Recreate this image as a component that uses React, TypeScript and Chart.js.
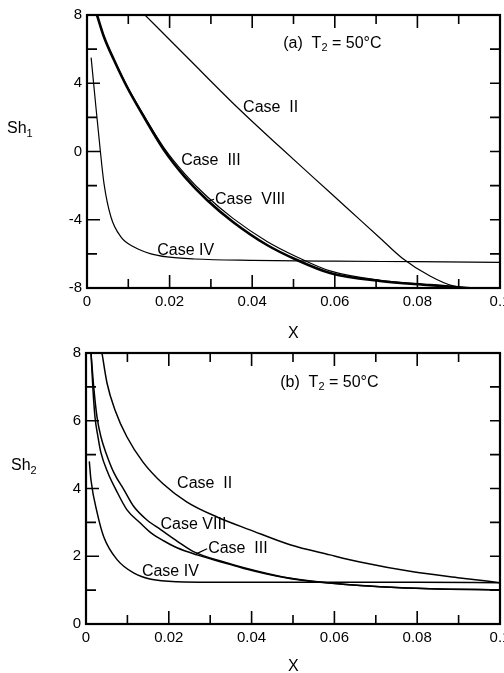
import { useEffect, useRef } from 'react';
import { Chart, registerables } from 'chart.js';

Chart.register(...registerables);

type P = [number, number];

// ---------- Panel (a): Sh1 vs X ----------
const TOP_CASE_II: P[] = [
  [0.01404, 8], [0.0249, 5.36], [0.03656, 2.55], [0.04673, 0.26], [0.05472, -1.5],
  [0.06295, -3.31], [0.07094, -5.07], [0.07627, -6.24], [0.08305, -7.3],
  [0.08862, -7.88], [0.1, -8.18],
];
const TOP_CASE_III: P[] = [
  [0.00242, 8], [0.00412, 6.71], [0.00654, 5.36], [0.00969, 3.78], [0.0138, 2.02],
  [0.01864, 0.09], [0.02373, -1.5], [0.02906, -2.84], [0.03535, -4.13], [0.04358, -5.48],
  [0.05085, -6.36], [0.05884, -7.12], [0.07094, -7.59], [0.08305, -7.83], [0.09516, -8.06],
  [0.1, -8.18],
];
const TOP_CASE_VIII: P[] = [
  [0.00242, 8], [0.00412, 6.73], [0.00654, 5.39], [0.00969, 3.83], [0.0138, 2.1],
  [0.01864, 0.22], [0.02373, -1.32], [0.02906, -2.64], [0.03535, -3.92], [0.04358, -5.27],
  [0.05085, -6.18], [0.05884, -7.0], [0.07094, -7.55], [0.08305, -7.81], [0.09516, -8.05],
  [0.1, -8.18],
];
const TOP_CASE_IV: P[] = [
  [0.001, 5.5], [0.002, 3.0], [0.0032, 0.1], [0.0041, -1.85], [0.0058, -3.84],
  [0.0082, -5.0], [0.0114, -5.6], [0.0155, -6.0], [0.0194, -6.18], [0.026, -6.3],
  [0.04, -6.38], [0.06, -6.43], [0.08, -6.46], [0.1, -6.5],
];

// ---------- Panel (b): Sh2 vs X ----------
const BOT_CASE_II: P[] = [
  [0.00386, 8], [0.00507, 7.115], [0.007, 6.32], [0.0099, 5.52], [0.01377, 4.78],
  [0.0186, 4.14], [0.0244, 3.6], [0.03164, 3.16], [0.0396, 2.78], [0.04928, 2.34],
  [0.05894, 2.04], [0.06618, 1.83], [0.079, 1.54], [0.09034, 1.36], [0.1, 1.22],
];
const BOT_CASE_VIII: P[] = [
  [0.00121, 8], [0.00193, 6.91], [0.00266, 6.11], [0.00362, 5.52], [0.00483, 5.05],
  [0.00676, 4.46], [0.00918, 3.96], [0.01159, 3.46], [0.01473, 3.07], [0.01812, 2.78],
  [0.02198, 2.45], [0.02609, 2.13], [0.03333, 1.83], [0.03816, 1.66], [0.04758, 1.39],
  [0.05652, 1.24], [0.07101, 1.1], [0.08309, 1.04], [0.1, 1.01],
];
const BOT_CASE_III: P[] = [
  [0.00121, 8], [0.00169, 6.91], [0.00217, 6.11], [0.0029, 5.52], [0.00362, 5.05],
  [0.00531, 4.46], [0.00725, 3.96], [0.0099, 3.37], [0.01304, 2.99], [0.0157, 2.69],
  [0.01884, 2.45], [0.02198, 2.25], [0.02681, 2.04], [0.03333, 1.81], [0.03816, 1.64],
  [0.04758, 1.38], [0.05652, 1.23], [0.07101, 1.1], [0.08309, 1.04], [0.1, 1.01],
];
const BOT_CASE_IV: P[] = [
  [0.0008, 4.8], [0.0012, 4.25], [0.0027, 3.28], [0.0043, 2.57], [0.0075, 1.9],
  [0.0116, 1.5], [0.0157, 1.32], [0.022, 1.25], [0.04, 1.23], [0.06, 1.23],
  [0.08, 1.23], [0.1, 1.22],
];

// ---------- Axis ticks ----------
const X_TICK_MARKS = [0.01, 0.02, 0.03, 0.04, 0.05, 0.06, 0.07, 0.08, 0.09];
const X_TICK_MAJOR = [0.02, 0.04, 0.06, 0.08];
const TOP_Y_TICK_MARKS = [-6, -4, -2, 0, 2, 4, 6];
const TOP_Y_TICK_MAJOR = [-4, 0, 4];
const BOT_Y_TICK_MARKS = [1, 2, 3, 4, 5, 6, 7];
const BOT_Y_TICK_MAJOR = [2, 4, 6];

const FONT = '"Liberation Sans", Arial, sans-serif';

type Label = { parts: { t: string; sub?: boolean }[]; x: number; y: number; arrowFrom?: P };

const TOP_LABELS: Label[] = [
  { parts: [{ t: '(a)  T' }, { t: '2', sub: true }, { t: ' = 50°C' }], x: 0.0475, y: 6.3 },
  { parts: [{ t: 'Case  II' }], x: 0.0378, y: 2.55 },
  { parts: [{ t: 'Case  III' }], x: 0.0228, y: -0.56 },
  { parts: [{ t: 'Case  VIII' }], x: 0.031, y: -2.8, arrowFrom: [0.0292, -2.92] },
  { parts: [{ t: 'Case IV' }], x: 0.017, y: -5.78 },
];
const BOT_LABELS: Label[] = [
  { parts: [{ t: '(b)  T' }, { t: '2', sub: true }, { t: ' = 50°C' }], x: 0.0469, y: 7.12 },
  { parts: [{ t: 'Case  II' }], x: 0.022, y: 4.14 },
  { parts: [{ t: 'Case VIII' }], x: 0.018, y: 2.93 },
  { parts: [{ t: 'Case  III' }], x: 0.0295, y: 2.22, arrowFrom: [0.0266, 2.07] },
  { parts: [{ t: 'Case IV' }], x: 0.0135, y: 1.54 },
];

const framePlugin = {
  id: 'frameTicks',
  afterDraw(chart: any, _args: any, opts: any) {
    const { ctx, chartArea: a, scales } = chart;
    ctx.save();
    ctx.strokeStyle = '#000';
    ctx.lineWidth = 1.6;
    for (const v of opts.xTicks as number[]) {
      const px = scales.x.getPixelForValue(v);
      const len = (opts.xMajor as number[]).some((m) => Math.abs(m - v) < 1e-9) ? 13 : 9;
      ctx.beginPath();
      ctx.moveTo(px, a.bottom);
      ctx.lineTo(px, a.bottom - len);
      ctx.moveTo(px, a.top);
      ctx.lineTo(px, a.top + len);
      ctx.stroke();
    }
    for (const v of opts.yTicks as number[]) {
      const py = scales.y.getPixelForValue(v);
      const len = (opts.yMajor as number[]).some((m) => Math.abs(m - v) < 1e-9) ? 13 : 10;
      ctx.beginPath();
      ctx.moveTo(a.left, py);
      ctx.lineTo(a.left + len, py);
      ctx.moveTo(a.right, py);
      ctx.lineTo(a.right - 10, py);
      ctx.stroke();
    }
    ctx.lineWidth = 2.2;
    ctx.strokeRect(a.left, a.top, a.right - a.left, a.bottom - a.top);
    ctx.restore();
  },
};

const labelPlugin = {
  id: 'curveLabels',
  afterDatasetsDraw(chart: any, _args: any, opts: any) {
    const { ctx, scales } = chart;
    ctx.save();
    ctx.fillStyle = '#000';
    ctx.strokeStyle = '#000';
    ctx.textBaseline = 'middle';
    for (const lab of opts.labels as Label[]) {
      let x = scales.x.getPixelForValue(lab.x);
      const y = scales.y.getPixelForValue(lab.y);
      if (lab.arrowFrom) {
        const ax = scales.x.getPixelForValue(lab.arrowFrom[0]);
        const ay = scales.y.getPixelForValue(lab.arrowFrom[1]);
        ctx.lineWidth = 1.2;
        ctx.beginPath();
        ctx.moveTo(ax, ay);
        ctx.lineTo(x - 1, y);
        ctx.stroke();
      }
      for (const part of lab.parts) {
        ctx.font = part.sub ? `11px ${FONT}` : `16px ${FONT}`;
        ctx.fillText(part.t, x, part.sub ? y + 4 : y);
        x += ctx.measureText(part.t).width;
      }
    }
    ctx.restore();
  },
};

function ds(label: string, pts: P[], width: number) {
  return {
    label,
    data: pts.map(([x, y]) => ({ x, y })),
    borderColor: '#000',
    backgroundColor: '#000',
    borderWidth: width,
    pointRadius: 0,
    fill: false,
    cubicInterpolationMode: 'monotone' as const,
  };
}

function xLabel(v: any) {
  const n = Number(v);
  if (Math.abs(n) < 1e-9) return '0';
  if (Math.abs(n - 0.1) < 1e-9) return '0.1';
  return n.toFixed(2);
}

function makeConfig(
  datasets: any[],
  yMin: number,
  yMax: number,
  yStep: number,
  padTop: number,
  yWidth: number,
  xHeight: number,
  yTicks: number[],
  yMajor: number[],
  labels: Label[],
): any {
  return {
    type: 'line',
    data: { datasets },
    plugins: [framePlugin, labelPlugin],
    options: {
      responsive: false,
      animation: false,
      events: [],
      layout: { padding: { top: padTop, right: 4, left: 0, bottom: 0 } },
      plugins: {
        legend: { display: false },
        tooltip: { enabled: false },
        frameTicks: { xTicks: X_TICK_MARKS, xMajor: X_TICK_MAJOR, yTicks, yMajor },
        curveLabels: { labels },
      },
      scales: {
        x: {
          type: 'linear',
          min: 0,
          max: 0.1,
          grid: { display: false, drawTicks: false },
          border: { display: false },
          ticks: { stepSize: 0.02, color: '#000', font: { family: FONT, size: 15 }, padding: 5, maxRotation: 0, autoSkip: false, callback: xLabel },
          afterFit: (s: any) => {
            s.height = xHeight;
            s.paddingLeft = 0;
            s.paddingRight = 0;
          },
        },
        y: {
          type: 'linear',
          min: yMin,
          max: yMax,
          grid: { display: false, drawTicks: false },
          border: { display: false },
          ticks: { stepSize: yStep, color: '#000', font: { family: FONT, size: 15 }, padding: 5, callback: (v: any) => String(Math.round(Number(v))) },
          afterFit: (s: any) => {
            s.width = yWidth;
            s.paddingTop = 0;
            s.paddingBottom = 0;
          },
        },
      },
    },
  };
}

export default function App() {
  const topRef = useRef<HTMLCanvasElement>(null);
  const botRef = useRef<HTMLCanvasElement>(null);

  useEffect(() => {
    const top = new Chart(
      topRef.current!,
      makeConfig(
        [
          ds('Case II', TOP_CASE_II, 1.2),
          ds('Case VIII', TOP_CASE_VIII, 1.2),
          ds('Case III', TOP_CASE_III, 2.6),
          ds('Case IV', TOP_CASE_IV, 1.2),
        ],
        -8, 8, 4, 15, 87, 32, TOP_Y_TICK_MARKS, TOP_Y_TICK_MAJOR, TOP_LABELS,
      ),
    );
    const bot = new Chart(
      botRef.current!,
      makeConfig(
        [
          ds('Case II', BOT_CASE_II, 1.5),
          ds('Case VIII', BOT_CASE_VIII, 1.5),
          ds('Case III', BOT_CASE_III, 1.5),
          ds('Case IV', BOT_CASE_IV, 1.5),
        ],
        0, 8, 2, 33, 86, 49, BOT_Y_TICK_MARKS, BOT_Y_TICK_MAJOR, BOT_LABELS,
      ),
    );
    return () => {
      top.destroy();
      bot.destroy();
    };
  }, []);

  const title: any = { position: 'absolute', fontFamily: FONT, fontSize: 16, color: '#000', lineHeight: '16px', whiteSpace: 'nowrap' };

  return (
    <div style={{ position: 'absolute', left: 0, top: 0, width: 504, height: 673, background: '#fff', overflow: 'hidden' }}>
      <canvas ref={topRef} width={504} height={320} style={{ position: 'absolute', left: 0, top: 0, width: 504, height: 320 }} />
      <canvas ref={botRef} width={504} height={353} style={{ position: 'absolute', left: 0, top: 320, width: 504, height: 353 }} />
      <div style={{ ...title, left: 7, top: 120 }}>
        Sh<sub style={{ fontSize: 11 }}>1</sub>
      </div>
      <div style={{ ...title, left: 11, top: 457 }}>
        Sh<sub style={{ fontSize: 11 }}>2</sub>
      </div>
      <div style={{ ...title, left: 288, top: 325 }}>X</div>
      <div style={{ ...title, left: 288, top: 658 }}>X</div>
    </div>
  );
}
